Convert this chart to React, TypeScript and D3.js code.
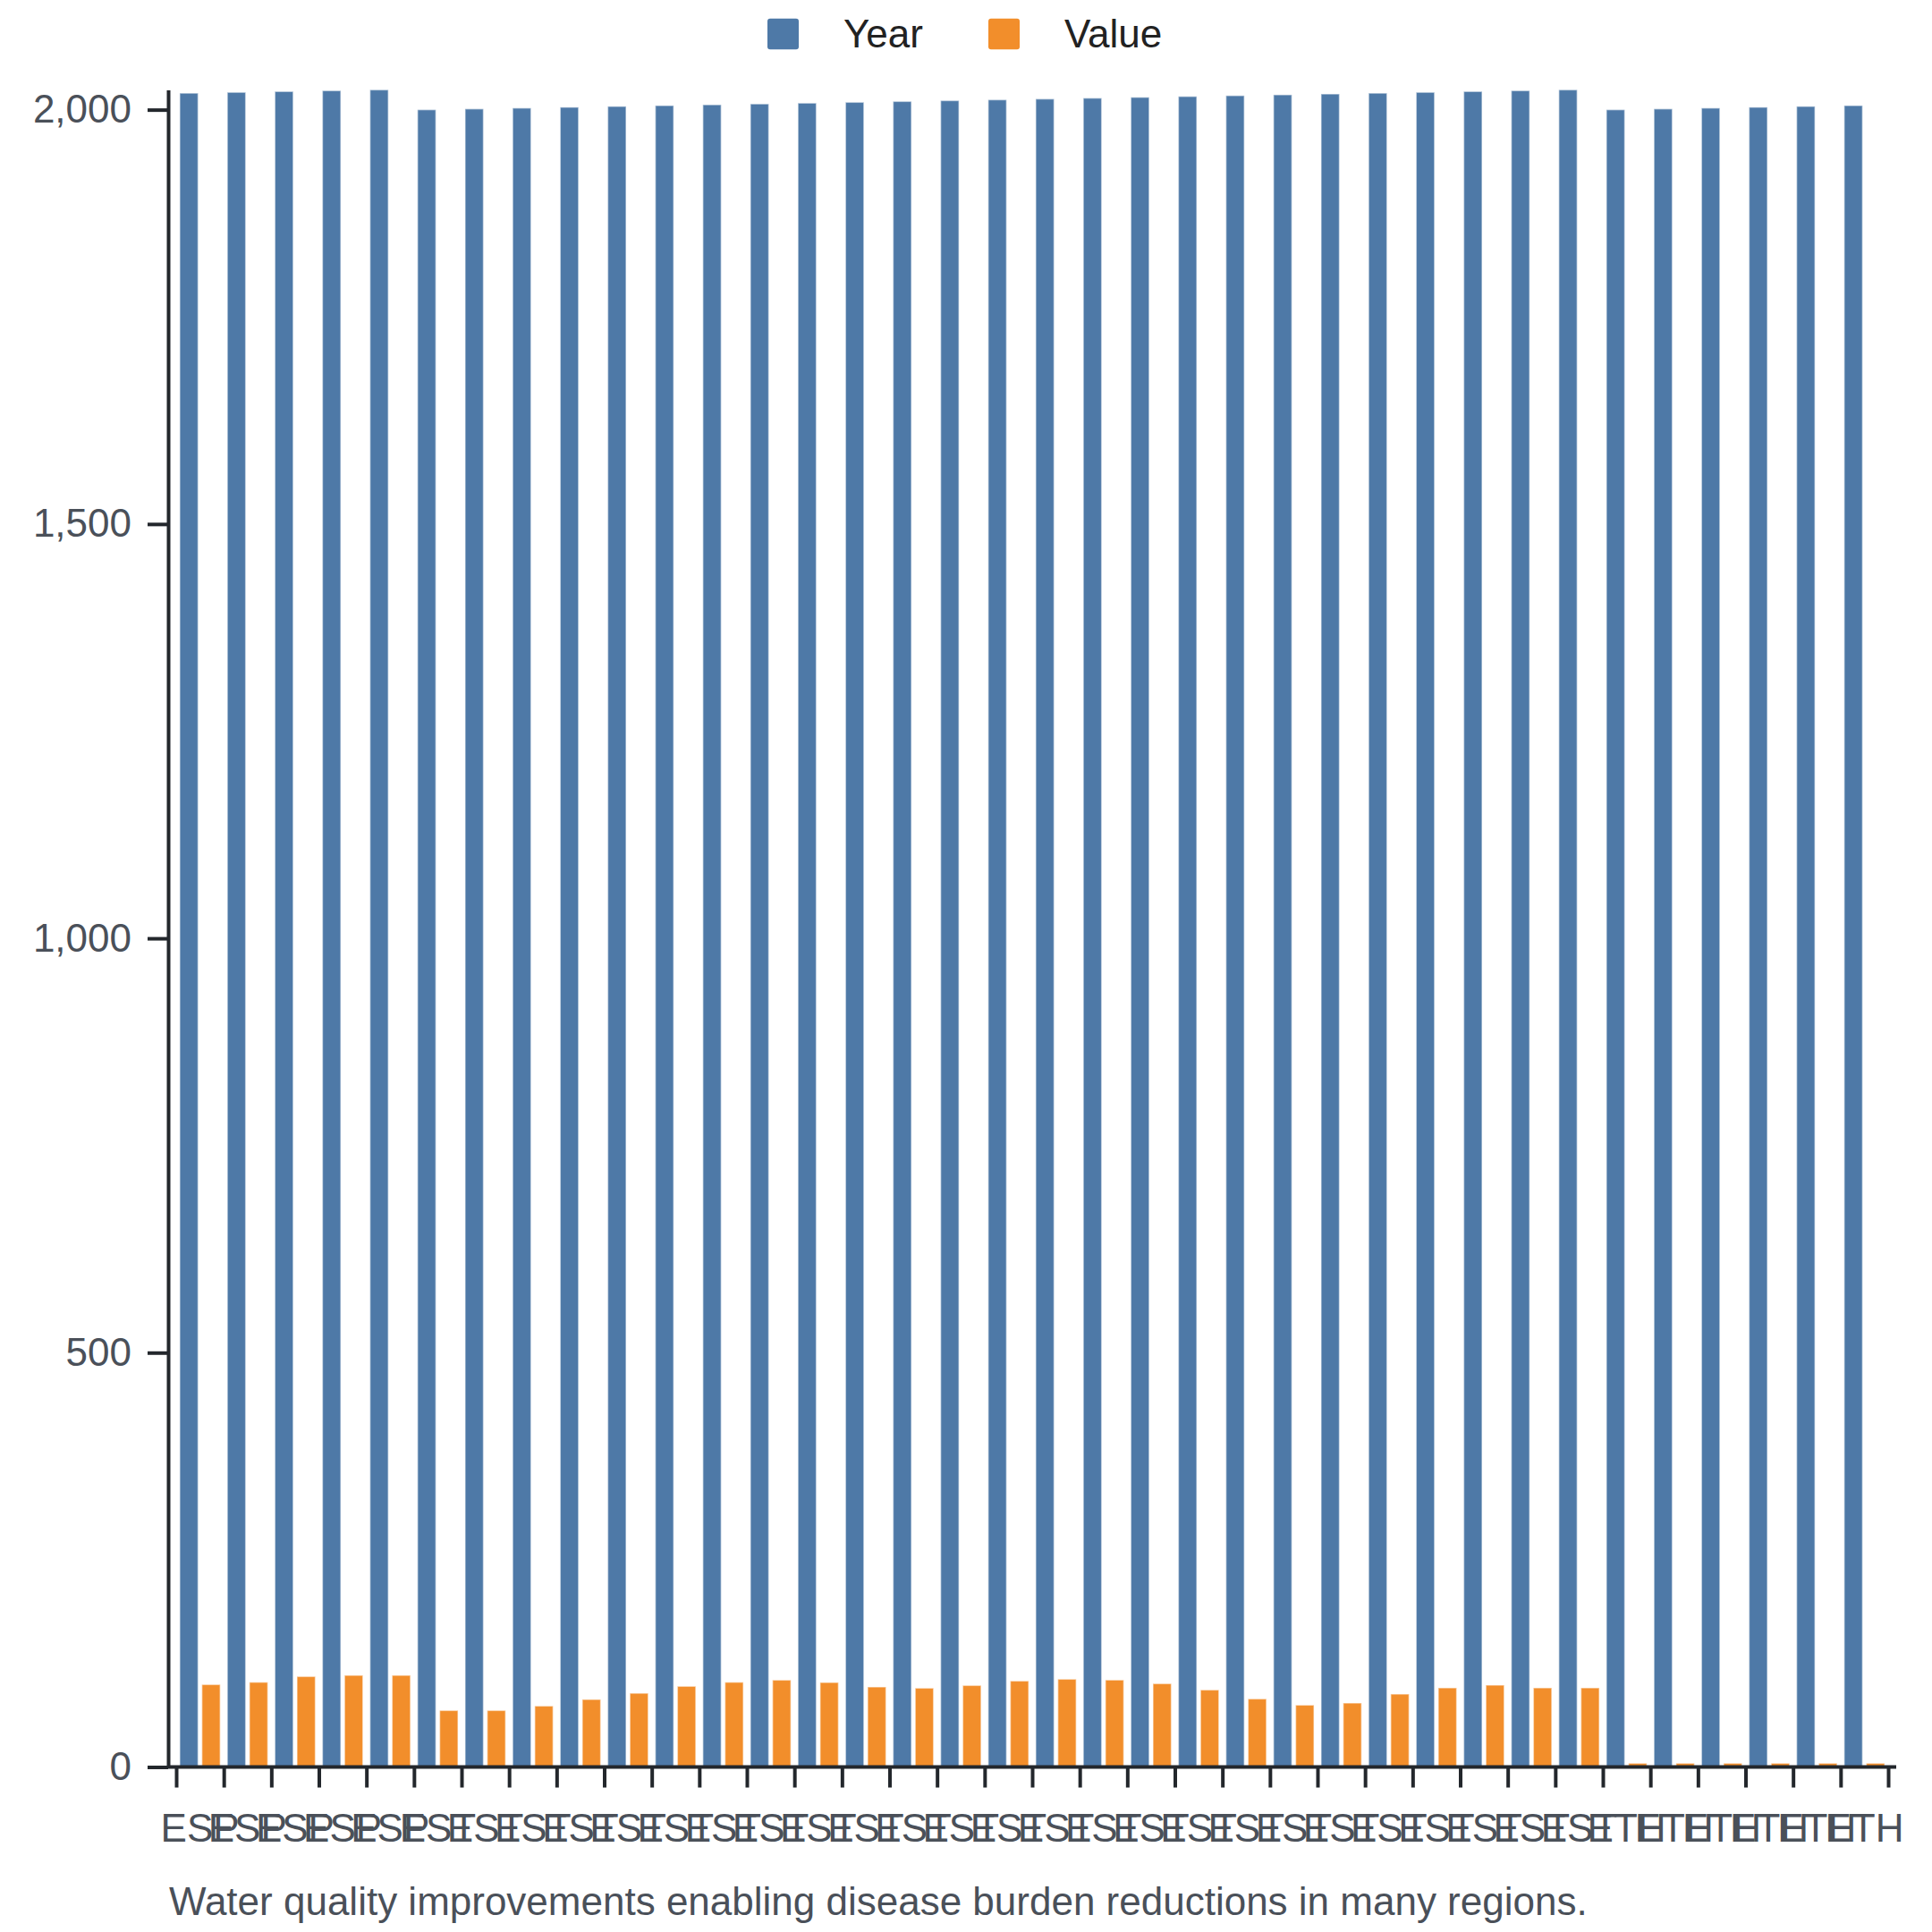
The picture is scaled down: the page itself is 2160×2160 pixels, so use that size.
import React, { useEffect, useRef } from "react";
import * as d3 from "d3";

// one row per bar group
const countries = [
  "ESP", "ESP", "ESP", "ESP", "ESP",
  "EST", "EST", "EST", "EST", "EST", "EST", "EST", "EST", "EST", "EST", "EST", "EST", "EST",
  "EST", "EST", "EST", "EST", "EST", "EST", "EST", "EST", "EST", "EST", "EST", "EST",
  "ETH", "ETH", "ETH", "ETH", "ETH", "ETH",
];

const years = [
  2020, 2021, 2022, 2023, 2024,
  2000, 2001, 2002, 2003, 2004, 2005, 2006, 2007, 2008, 2009, 2010, 2011, 2012,
  2013, 2014, 2015, 2016, 2017, 2018, 2019, 2020, 2021, 2022, 2023, 2024,
  2000, 2001, 2002, 2003, 2004, 2005,
];

const values = [
  99.5, 102.3, 109.2, 110.6, 110.6,
  68.2, 68.2, 73.6, 81.5, 89.0, 97.4, 102.3, 104.9, 102.0, 96.6, 95.2, 98.4, 103.8,
  106.0, 105.0, 100.6, 93.0, 82.2, 74.7, 77.2, 88.0, 95.5, 98.8, 95.5, 95.5,
  4.5, 4.5, 4.5, 4.5, 4.5, 4.5,
];

const seriesKeys = ["Year", "Value"];
const seriesColors = ["#4e79a7", "#f28e2b"];
const yTicks = [0, 500, 1000, 1500, 2000];
const caption = "Water quality improvements enabling disease burden reductions in many regions.";

const W = 2160;
const H = 2160;
const FONT = "'Liberation Sans', Arial, Helvetica, sans-serif";
const AXIS = "#23272c";
const LABEL = "#4a5059";

const App = () => {
  const ref = useRef<SVGSVGElement>(null);

  useEffect(() => {
    document.body.style.margin = "0";
    const svg = d3.select(ref.current);
    svg.selectAll("*").remove();

    const rows = countries.map((c, i) => ({ country: c, Year: years[i], Value: values[i] }));

    const left = 188;
    const bandStart = 197;
    const bandEnd = 2111;
    const axisEnd = 2120;
    const y0 = 1975.5;
    const yTop = 100.4;

    const x0 = d3.scaleBand<number>()
      .domain(rows.map((_, i) => i))
      .range([bandStart, bandEnd])
      .padding(0);

    const x1 = d3.scaleBand<string>()
      .domain(seriesKeys)
      .range([0, x0.bandwidth()])
      .paddingInner(0.17)
      .paddingOuter(0.16);

    const color = d3.scaleOrdinal<string, string>().domain(seriesKeys).range(seriesColors);

    const y = d3.scaleLinear()
      .domain([0, d3.max(years) as number])
      .range([y0, yTop]);

    // bars
    svg.append("g")
      .selectAll("g")
      .data(rows)
      .enter()
      .append("g")
      .attr("transform", (_, i) => `translate(${x0(i)},0)`)
      .selectAll("rect")
      .data(d => seriesKeys.map(k => ({ key: k, value: d[k] })))
      .enter()
      .append("rect")
      .attr("x", d => x1(d.key))
      .attr("y", d => y(d.value))
      .attr("width", x1.bandwidth())
      .attr("height", d => y0 - y(d.value))
      .attr("fill", d => color(d.key))
      .attr("stroke", "#ffffff")
      .attr("stroke-opacity", 0.5)
      .attr("stroke-width", 1.5);

    // x tick marks on group boundaries
    const xb = d3.scaleLinear().domain([0, rows.length]).range([bandStart, bandEnd]);
    const xTickAxis = svg.append("g")
      .attr("transform", `translate(0,${y0})`)
      .call(d3.axisBottom(xb).tickValues(d3.range(rows.length + 1)).tickSize(23).tickSizeOuter(0).tickFormat(() => ""));
    xTickAxis.select(".domain").remove();
    xTickAxis.selectAll("line").attr("stroke", AXIS).attr("stroke-width", 4);

    svg.append("line")
      .attr("x1", left)
      .attr("x2", axisEnd)
      .attr("y1", y0)
      .attr("y2", y0)
      .attr("stroke", AXIS)
      .attr("stroke-width", 4);

    // x labels centered in groups
    const xLabelAxis = svg.append("g")
      .attr("transform", `translate(0,${y0})`)
      .call(d3.axisBottom(x0).tickSize(0).tickPadding(52).tickFormat(i => countries[i]));
    xLabelAxis.select(".domain").remove();
    xLabelAxis.selectAll("text")
      .attr("font-family", FONT)
      .attr("font-size", 44)
      .attr("fill", LABEL);

    // y axis
    const yAxis = svg.append("g")
      .attr("transform", `translate(${left},0)`)
      .call(d3.axisLeft(y).tickValues(yTicks).tickSize(23).tickSizeOuter(0).tickPadding(18).tickFormat(d3.format(",")));
    yAxis.select(".domain").attr("stroke", AXIS).attr("stroke-width", 4);
    yAxis.selectAll("line").attr("stroke", AXIS).attr("stroke-width", 4);
    yAxis.selectAll("text")
      .attr("font-family", FONT)
      .attr("font-size", 44)
      .attr("fill", LABEL);

    // legend
    const legend = svg.append("g").attr("transform", "translate(858,20.7)");
    const item = legend.selectAll("g")
      .data(seriesKeys)
      .enter()
      .append("g")
      .attr("transform", (_, i) => `translate(${i * 247},0)`);
    item.append("rect")
      .attr("width", 35)
      .attr("height", 34.5)
      .attr("rx", 3)
      .attr("fill", d => color(d));
    item.append("text")
      .attr("x", 85)
      .attr("y", 32.6)
      .attr("font-family", FONT)
      .attr("font-size", 44)
      .attr("fill", "#222222")
      .text(d => d);

    // caption
    svg.append("text")
      .attr("x", 189)
      .attr("y", 2140.7)
      .attr("font-family", FONT)
      .attr("font-size", 44)
      .attr("fill", LABEL)
      .text(caption);
  }, []);

  return <svg ref={ref} width={W} height={H} style={{ display: "block", background: "#ffffff" }}></svg>;
};

export default App;
